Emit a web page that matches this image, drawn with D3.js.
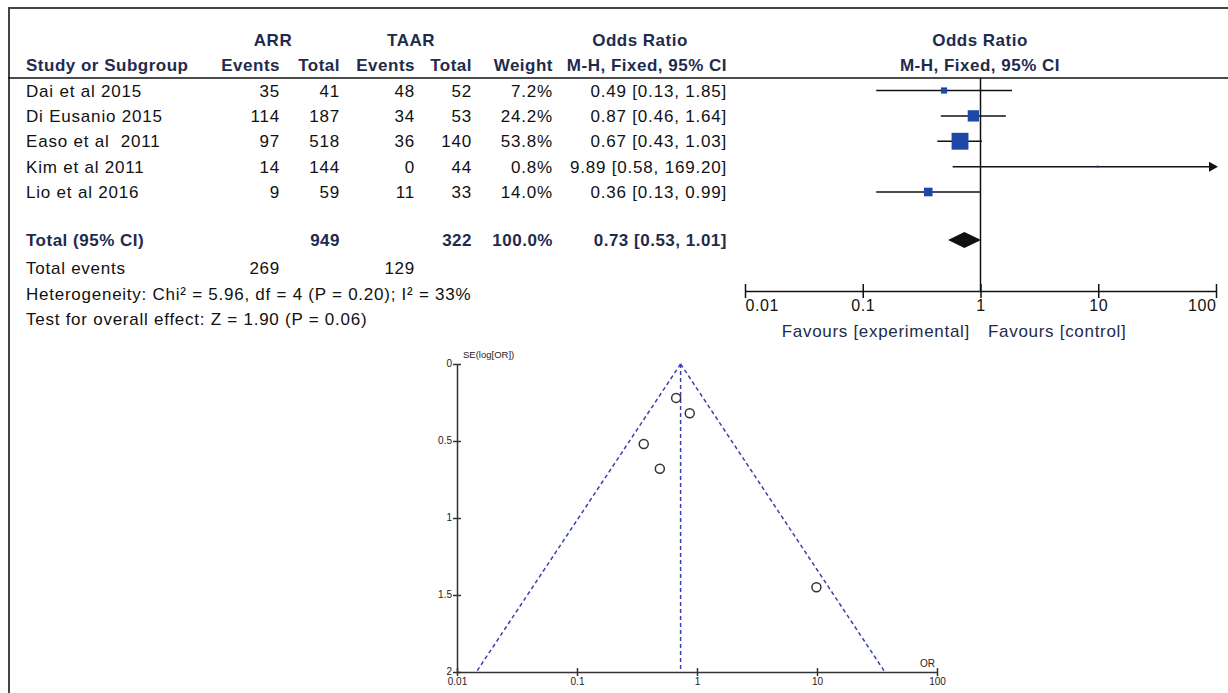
<!DOCTYPE html>
<html>
<head>
<meta charset="utf-8">
<script src="https://cdn.jsdelivr.net/npm/d3@7"></script>
<style>
  body { margin: 0; background: #fff; }
  text { font-family: "Liberation Sans", Arial, sans-serif; white-space: pre; }
</style>
</head>
<body>
<svg id="chart" width="1228" height="693"></svg>
<script>
// study table
var studies = ['Dai et al 2015', 'Di Eusanio 2015', 'Easo et al  2011', 'Kim et al 2011', 'Lio et al 2016'];
var arrEvents = [35, 114, 97, 14, 9];
var arrTotal = [41, 187, 518, 144, 59];
var taarEvents = [48, 34, 36, 0, 11];
var taarTotal = [52, 53, 140, 44, 33];
var weights = [7.2, 24.2, 53.8, 0.8, 14.0];
var oddsRatio = [0.49, 0.87, 0.67, 9.89, 0.36];
var ciLow = [0.13, 0.46, 0.43, 0.58, 0.13];
var ciHigh = [1.85, 1.64, 1.03, 169.20, 0.99];
var seLogOr = [0.68, 0.32, 0.22, 1.45, 0.52];

// pooled
var totalOr = [0.73, 0.53, 1.01];   // estimate, low, high
var totalN = [949, 322];
var totalEvents = [269, 129];
var funnelBase = [0.0145, 36.8];     // pseudo 95% limits at SE = 2

var orTicks = [0.01, 0.1, 1, 10, 100];
var seTicks = [0, 0.5, 1, 1.5, 2];

var svg = d3.select('#chart');
var ink = '#111',
    navy = '#1f2b4d',
    blue = '#1f47a8';

// frame
svg.append('line').attr('x1', 8).attr('x2', 1228).attr('y1', 8).attr('y2', 8)
    .attr('stroke', '#444').attr('stroke-width', 2);
svg.append('line').attr('x1', 9).attr('x2', 9).attr('y1', 8).attr('y2', 693)
    .attr('stroke', '#444').attr('stroke-width', 2);

// ---- table ----
var cols = [
    { x: 280, head: 'Events', vals: arrEvents, fmt: d => d },
    { x: 340, head: 'Total', vals: arrTotal, fmt: d => d },
    { x: 415, head: 'Events', vals: taarEvents, fmt: d => d },
    { x: 472, head: 'Total', vals: taarTotal, fmt: d => d },
    { x: 553, head: 'Weight', vals: weights, fmt: d => d.toFixed(1) + '%' },
    { x: 727, head: 'M-H, Fixed, 95% CI', vals: d3.range(studies.length),
      fmt: i => oddsRatio[i].toFixed(2) + ' [' + ciLow[i].toFixed(2) + ', ' + ciHigh[i].toFixed(2) + ']' }
];

var rowY = d3.scaleLinear().domain([0, 4]).range([90.5, 192]);

var head = svg.append('g').attr('fill', navy).attr('font-weight', 'bold')
    .attr('font-size', 17).attr('letter-spacing', 0.5);
head.append('text').attr('x', 273).attr('y', 46).attr('text-anchor', 'middle').text('ARR');
head.append('text').attr('x', 411).attr('y', 46).attr('text-anchor', 'middle').text('TAAR');
head.append('text').attr('x', 640).attr('y', 46).attr('text-anchor', 'middle').text('Odds Ratio');
head.append('text').attr('x', 26).attr('y', 71).text('Study or Subgroup');
cols.forEach(c => {
    head.append('text').attr('x', c.x).attr('y', 71).attr('text-anchor', 'end').text(c.head);
});
head.append('text').attr('x', 980).attr('y', 46).attr('text-anchor', 'middle').text('Odds Ratio');
head.append('text').attr('x', 980).attr('y', 71).attr('text-anchor', 'middle').text('M-H, Fixed, 95% CI');

svg.append('line').attr('x1', 8).attr('x2', 1228).attr('y1', 78).attr('y2', 78)
    .attr('stroke', ink).attr('stroke-width', 1.5);

var body = svg.append('g').attr('fill', ink).attr('font-size', 17).attr('letter-spacing', 0.8);
body.selectAll('.study').data(studies).enter().append('text')
    .attr('x', 26).attr('y', (d, i) => rowY(i)).attr('dy', '0.36em').text(d => d);
cols.forEach(c => {
    body.selectAll(null).data(c.vals).enter().append('text')
        .attr('x', c.x).attr('y', (d, i) => rowY(i)).attr('dy', '0.36em')
        .attr('text-anchor', 'end').text(c.fmt);
});

// total row
var tot = svg.append('g').attr('fill', navy).attr('font-weight', 'bold')
    .attr('font-size', 17).attr('letter-spacing', 0.5);
tot.append('text').attr('x', 26).attr('y', 240).attr('dy', '0.36em').text('Total (95% CI)');
tot.append('text').attr('x', 340).attr('y', 240).attr('dy', '0.36em').attr('text-anchor', 'end').text(totalN[0]);
tot.append('text').attr('x', 472).attr('y', 240).attr('dy', '0.36em').attr('text-anchor', 'end').text(totalN[1]);
tot.append('text').attr('x', 553).attr('y', 240).attr('dy', '0.36em').attr('text-anchor', 'end').text('100.0%');
tot.append('text').attr('x', 727).attr('y', 240).attr('dy', '0.36em').attr('text-anchor', 'end')
    .text(totalOr[0].toFixed(2) + ' [' + totalOr[1].toFixed(2) + ', ' + totalOr[2].toFixed(2) + ']');

var foot = svg.append('g').attr('fill', ink).attr('font-size', 17).attr('letter-spacing', 0.75);
foot.append('text').attr('x', 26).attr('y', 268).attr('dy', '0.36em').text('Total events');
foot.append('text').attr('x', 280).attr('y', 268).attr('dy', '0.36em').attr('text-anchor', 'end').text(totalEvents[0]);
foot.append('text').attr('x', 415).attr('y', 268).attr('dy', '0.36em').attr('text-anchor', 'end').text(totalEvents[1]);
foot.append('text').attr('x', 26).attr('y', 294).attr('dy', '0.36em')
    .text('Heterogeneity: Chi\u00b2 = 5.96, df = 4 (P = 0.20); I\u00b2 = 33%');
foot.append('text').attr('x', 26).attr('y', 319).attr('dy', '0.36em')
    .text('Test for overall effect: Z = 1.90 (P = 0.06)');

// ---- forest plot ----
var fx = d3.scaleLog().domain([0.01, 100]).range([745, 1216]);
var axisY = 291;

svg.append('line').attr('x1', fx(1)).attr('x2', fx(1)).attr('y1', 78).attr('y2', axisY)
    .attr('stroke', ink).attr('stroke-width', 1.5);

var forest = svg.append('g');
forest.selectAll('.ci').data(studies).enter().append('line')
    .attr('x1', (d, i) => fx(Math.max(ciLow[i], 0.01)))
    .attr('x2', (d, i) => fx(Math.min(ciHigh[i], 100)))
    .attr('y1', (d, i) => rowY(i)).attr('y2', (d, i) => rowY(i))
    .attr('stroke', ink).attr('stroke-width', 1.5);

// arrows for CIs beyond the axis
studies.forEach((d, i) => {
    if (ciHigh[i] > 100) {
        var ax = fx(100) + 2, ay = rowY(i);
        forest.append('path')
            .attr('d', 'M' + ax + ',' + ay + 'l-9,-5v10z')
            .attr('fill', ink);
    }
});

var side = w => Math.max(2, 2.3 * Math.sqrt(w));
forest.selectAll('.sq').data(studies).enter().append('rect')
    .attr('x', (d, i) => fx(oddsRatio[i]) - side(weights[i]) / 2)
    .attr('y', (d, i) => rowY(i) - side(weights[i]) / 2)
    .attr('width', (d, i) => side(weights[i]))
    .attr('height', (d, i) => side(weights[i]))
    .attr('fill', blue);

forest.append('path')
    .attr('d', 'M' + fx(totalOr[1]) + ',240L' + fx(totalOr[0]) + ',232L' + fx(totalOr[2]) + ',240L' + fx(totalOr[0]) + ',248Z')
    .attr('fill', ink);

var fAxis = svg.append('g').attr('transform', 'translate(0,' + axisY + ')')
    .call(d3.axisBottom(fx).tickValues(orTicks).tickSize(7).tickSizeOuter(0).tickFormat(d => d));
fAxis.select('.domain').attr('stroke', ink).attr('stroke-width', 1.5);
fAxis.selectAll('.tick line').attr('y1', -7).attr('stroke', ink).attr('stroke-width', 1.5);
fAxis.selectAll('.tick text').attr('font-size', 16).attr('letter-spacing', 0.6)
    .attr('fill', ink).attr('y', 9)
    .attr('font-family', '"Liberation Sans", Arial, sans-serif')
    .attr('text-anchor', (d, i) => i === 0 ? 'start' : (i === orTicks.length - 1 ? 'end' : 'middle'));

svg.append('text').attr('x', 970).attr('y', 331).attr('dy', '0.36em').attr('text-anchor', 'end')
    .attr('font-size', 17).attr('letter-spacing', 0.7).attr('fill', navy).text('Favours [experimental]');
svg.append('text').attr('x', 988).attr('y', 331).attr('dy', '0.36em')
    .attr('font-size', 17).attr('letter-spacing', 0.7).attr('fill', navy).text('Favours [control]');

// ---- funnel plot ----
var ux = d3.scaleLog().domain([0.01, 100]).range([457, 937]);
var uy = d3.scaleLinear().domain([0, 2]).range([364, 672]);
var dash = '#3a40b0';

var funnel = svg.append('g');
funnel.append('line').attr('x1', ux(totalOr[0])).attr('x2', ux(totalOr[0]))
    .attr('y1', uy(0)).attr('y2', uy(2))
    .attr('stroke', dash).attr('stroke-width', 1.5).attr('stroke-dasharray', '4,3');
funnelBase.forEach(b => {
    funnel.append('line').attr('x1', ux(totalOr[0])).attr('y1', uy(0))
        .attr('x2', ux(b)).attr('y2', uy(2))
        .attr('stroke', dash).attr('stroke-width', 1.5).attr('stroke-dasharray', '4,3');
});
funnel.selectAll('circle').data(studies).enter().append('circle')
    .attr('cx', (d, i) => ux(oddsRatio[i])).attr('cy', (d, i) => uy(seLogOr[i]))
    .attr('r', 4.5).attr('fill', 'none').attr('stroke', '#333').attr('stroke-width', 1.5);

var gy = svg.append('g').attr('transform', 'translate(' + ux(0.01) + ',0)')
    .call(d3.axisLeft(uy).tickValues(seTicks).tickSize(4).tickSizeOuter(0).tickFormat(d => d));
gy.select('.domain').attr('stroke', '#333').attr('stroke-width', 1.5);
gy.selectAll('.tick line').attr('x1', 4).attr('stroke', '#333').attr('stroke-width', 1.5);
gy.selectAll('.tick text').attr('font-size', 10).attr('fill', '#222').attr('x', -5).attr('dy', '0.2em')
    .attr('font-family', '"Liberation Sans", Arial, sans-serif');

var gx = svg.append('g').attr('transform', 'translate(0,' + uy(2) + ')')
    .call(d3.axisBottom(ux).tickValues(orTicks).tickSize(4).tickSizeOuter(0).tickFormat(d => d));
gx.select('.domain').attr('stroke', '#333').attr('stroke-width', 1.5);
gx.selectAll('.tick line').attr('y1', -4).attr('stroke', '#333').attr('stroke-width', 1.5);
gx.selectAll('.tick text').attr('font-size', 10).attr('fill', '#222').attr('y', 6)
    .attr('font-family', '"Liberation Sans", Arial, sans-serif');

svg.append('text').attr('x', ux(0.01) + 6).attr('y', 358).attr('font-size', 9.5).attr('fill', '#222')
    .text('SE(log[OR])');
svg.append('text').attr('x', ux(100) - 2).attr('y', 667).attr('text-anchor', 'end')
    .attr('font-size', 10).attr('fill', '#222').text('OR');
</script>
</body>
</html>
